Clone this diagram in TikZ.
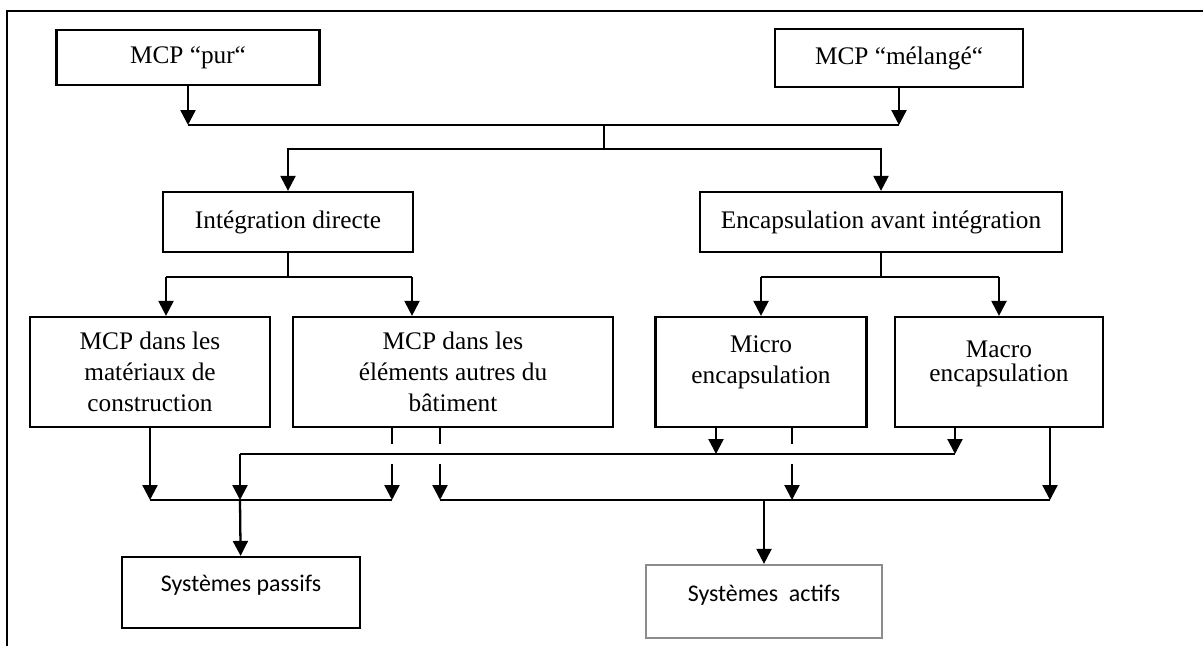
\documentclass[tikz,border=0pt]{standalone}
\usepackage{fontspec}
\setmainfont{Liberation Serif}
\newfontfamily\calibri{Carlito}
\usetikzlibrary{arrows.meta}

\definecolor{boxgray}{gray}{0.55}

\tikzset{
  box/.style={draw, line width=1.3pt, inner sep=0pt, align=center,
    font=\fontsize{14.4}{17.6}\selectfont},
  sbox/.style={box, font=\calibri\fontsize{13.6}{16}\selectfont},
  arr/.style={-{Triangle[length=8.5pt,width=8.5pt]}, line width=1.3pt},
  bridge/.style={preaction={draw=white, line width=11pt}, line width=1.3pt},
}

\begin{document}
\begin{tikzpicture}[x=0.02cm, y=-0.02cm]
  \useasboundingbox (0,0) rectangle (1203,649);
  % cadre
  \draw[line width=1.4pt] (1203,11) -- (7,11) -- (7,646);

  \node[box, minimum width=5.26cm, minimum height=1.1cm] (pur) at (188,57.5) {MCP “pur“};
  \node[box, minimum width=4.96cm, minimum height=1.16cm] (mel) at (899,58) {MCP “mélangé“};
  \node[box, minimum width=5cm, minimum height=1.2cm] (integ) at (288,222) {Intégration directe};
  \node[box, minimum width=7.24cm, minimum height=1.2cm] (encap) at (881,222) {Encapsulation avant intégration};
  \node[box, minimum width=4.8cm, minimum height=2.2cm] (mat) at (150,372) {MCP dans les\\matériaux de\\construction};
  \node[box, minimum width=6.4cm, minimum height=2.2cm] (elem) at (453,372) {MCP dans les\\éléments autres du\\bâtiment};
  \node[box, minimum width=4.22cm, minimum height=2.2cm, text depth=14pt] (micro) at (761,372) {Micro\\encapsulation};
  \node[box, minimum width=4.16cm, minimum height=2.2cm, text depth=12.5pt] (macro) at (999,372) {Macro\\[-4pt]encapsulation};
  \node[sbox, minimum width=4.76cm, minimum height=1.42cm, text depth=10pt] (passifs) at (241,592.5) {Systèmes passifs};
  \node[sbox, draw=boxgray, minimum width=4.72cm, minimum height=1.46cm, text depth=9.5pt] (actifs) at (764,601.5) {Systèmes\ \ actifs};

  % jonctions
  \coordinate (top) at (604,125);
  \coordinate (split) at (604,149);
  \coordinate (a1) at (166,277);
  \coordinate (a2) at (412,277);
  \coordinate (mL) at (240,454);
  \coordinate (mR) at (955,454);
  \coordinate (mic1) at (716,454);
  \coordinate (lL) at (150,500);
  \coordinate (lR) at (392,500);
  \coordinate (rL) at (440,500);
  \coordinate (mic2) at (792,500);
  \coordinate (rR) at (1050,500);

  \draw[arr] (pur) -- (pur |- top);
  \draw[arr] (mel) -- (mel |- top);
  \draw[line width=1.3pt] (pur |- top) -- (mel |- top);
  \draw[line width=1.3pt] (top) -- (split);
  \draw[arr] (split) -| (integ);
  \draw[arr] (split) -| (encap);

  \draw[line width=1.3pt] (integ) -- (integ |- a1);
  \draw[line width=1.3pt] (a1) -- (a2);
  \draw[arr] (a1) -- (a1 |- mat.north);
  \draw[arr] (a2) -- (a2 |- elem.north);

  \draw[line width=1.3pt] (encap) -- (encap |- a1);
  \draw[line width=1.3pt] (micro |- a1) -- (macro |- a1);
  \draw[arr] (micro |- a1) -- (micro);
  \draw[arr] (macro |- a1) -- (macro);

  % vers les systemes
  \draw[arr] (mat) -- (mat |- lL);
  \draw[line width=1.3pt] (lL) -- (lR);
  \draw[arr] (elem.south -| lR) -- (lR);
  \draw[arr] (elem.south -| rL) -- (rL);
  \draw[line width=1.3pt] (rL) -- (rR);
  \draw[arr] (micro.south -| mic2) -- (mic2);
  \draw[arr] (macro.south -| rR) -- (rR);

  \draw[bridge] (mL) -- (mR);
  \draw[arr] (micro.south -| mic1) -- (mic1);
  \draw[arr] (macro.south -| mR) -- (mR);
  \draw[arr] (mL) -- (mL |- lL);
  \draw[arr] (mL |- lL) -- (passifs);
  \draw[arr] (actifs |- rR) -- (actifs);
\end{tikzpicture}
\end{document}
